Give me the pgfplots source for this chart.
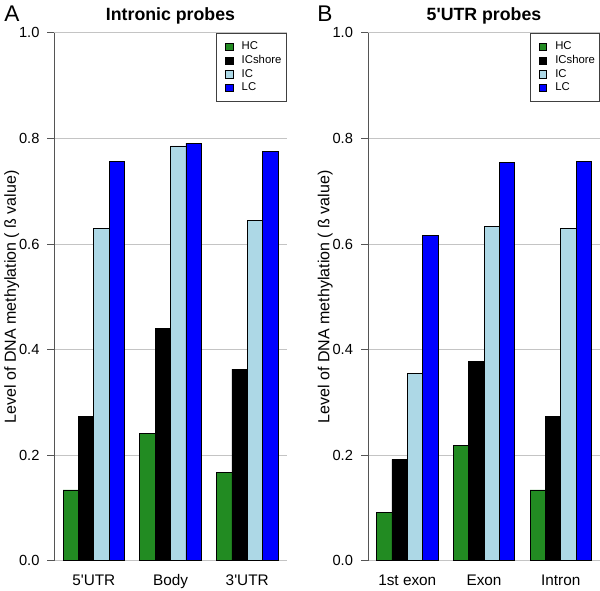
\documentclass[border=0pt]{standalone}
\usepackage{fontspec}
\setmainfont{Liberation Sans}
\usepackage{pgfplots}
\usepackage{pgfplotstable}
\pgfplotsset{compat=1.18}

\definecolor{hcgreen}{HTML}{228B22}
\definecolor{iclight}{HTML}{ADD8E6}
\definecolor{lcblue}{HTML}{0000FF}
\definecolor{axgray}{HTML}{555555}
\definecolor{gridgray}{HTML}{C4C4C4}

% group centres 3, 8, 13 (bar units, as in R barplot with space=c(0,1))
\pgfplotstableread{
x  HC    ICshore IC    LC
3  0.134 0.273   0.630 0.757
8  0.241 0.440   0.786 0.791
13 0.167 0.363   0.644 0.776
}\intronic
\pgfplotstableread{
x  HC    ICshore IC    LC
3  0.092 0.192   0.355 0.617
8  0.219 0.377   0.634 0.755
13 0.134 0.273   0.630 0.757
}\utrfive

\pgfplotsset{
  panel/.style={
    scale only axis,
    width=174pt, height=395.85pt,
    anchor=south west,
    xmin=0.44, xmax=15.56,
    ymin=0, ymax=1,
    clip=false,
    axis y line*=left,
    axis x line*=bottom,
    x axis line style={draw=none},
    y axis line style={draw=axgray, line width=0.6pt, -},
    ytick={0,0.2,...,1.0},
    yticklabel style={/pgf/number format/fixed, /pgf/number format/fixed zerofill,
      /pgf/number format/precision=1, font=\fontsize{11}{13}\selectfont, xshift=-2.5pt},
    /pgf/number format/assume math mode=true,
    ytick style={draw=axgray, line width=0.6pt},
    tick align=outside,
    major tick length=5.25pt,
    xtick={3,8,13},
    xtick style={draw=none},
    xticklabel style={font=\fontsize{11.5}{13}\selectfont, anchor=base, yshift=-13.5pt},
    ymajorgrids=true,
    grid style={draw=gridgray, line width=0.6pt},
    ybar, bar width=1,
    every axis plot/.append style={draw=black, line width=0.5pt},
    title style={font=\fontsize{13.3}{15}\selectfont\bfseries, at={(0.5,1)}, anchor=base, yshift=3pt},
    ylabel={Level of DNA methylation ( ß value)},
    every axis y label/.style={at={(rel axis cs:0,0.5)}, xshift=-29pt, rotate=90, anchor=base,
      font=\fontsize{12}{14}\selectfont},
    legend style={at={(1,1)}, anchor=north east, draw=black!75, line width=0.6pt,
      font=\fontsize{8.5}{9.75}\selectfont, inner xsep=3pt, inner ysep=5.5pt, row sep=0.75pt,
      nodes={inner sep=0.5pt, text height=6.5pt, text depth=2pt}},
    legend cell align=left,
    legend image code/.code={%
      \draw[#1, line width=0.5pt] (0pt,-2.8pt) rectangle (5.6pt,2.8pt);
      \path (-3.5pt,0pt) (11.5pt,0pt);},
  }
}

\begin{document}
\begin{tikzpicture}
\path[use as bounding box] (0,0) rectangle (450pt,442.5pt);

\begin{axis}[panel, at={(40.875pt,21.975pt)}, title={Intronic probes},
  xticklabels={5\textquotesingle UTR, Body, 3\textquotesingle UTR}]
\addplot[fill=hcgreen, bar shift=-1.5] table[x=x, y=HC] {\intronic};
\addplot[fill=black, bar shift=-0.5] table[x=x, y=ICshore] {\intronic};
\addplot[fill=iclight, bar shift=0.5] table[x=x, y=IC] {\intronic};
\addplot[fill=lcblue, bar shift=1.5] table[x=x, y=LC] {\intronic};
\legend{HC, ICshore, IC, LC}
\end{axis}

\begin{axis}[panel, at={(276pt,21.975pt)}, title={5\textquotesingle UTR probes},
  xticklabels={1st exon, Exon, Intron}]
\addplot[fill=hcgreen, bar shift=-1.5] table[x=x, y=HC] {\utrfive};
\addplot[fill=black, bar shift=-0.5] table[x=x, y=ICshore] {\utrfive};
\addplot[fill=iclight, bar shift=0.5] table[x=x, y=IC] {\utrfive};
\addplot[fill=lcblue, bar shift=1.5] table[x=x, y=LC] {\utrfive};
\legend{HC, ICshore, IC, LC}
\end{axis}

\node[anchor=base west, inner sep=0pt, font=\fontsize{17}{17}\selectfont] at (3pt,426pt) {A};
\node[anchor=base west, inner sep=0pt, font=\fontsize{17}{17}\selectfont] at (237.75pt,426pt) {B};
\end{tikzpicture}
\end{document}
